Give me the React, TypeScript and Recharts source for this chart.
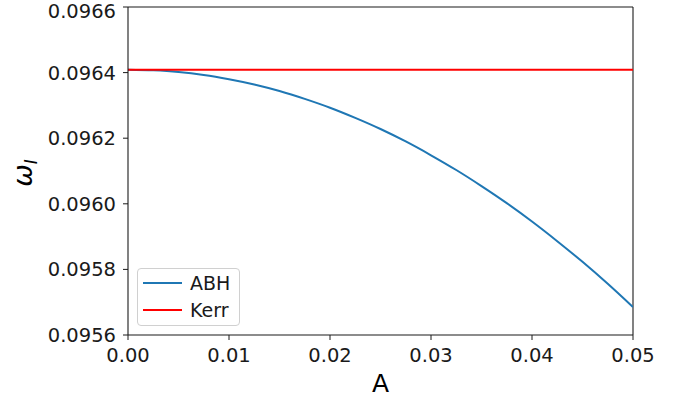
import React from 'react';
import { LineChart, Line, XAxis, YAxis, Label, ReferenceLine } from 'recharts';

const aValues = [0, 0.0025, 0.005, 0.0075, 0.01, 0.0125, 0.015, 0.0175, 0.02, 0.0225, 0.025, 0.0275, 0.03, 0.0325, 0.035, 0.0375, 0.04, 0.0425, 0.045, 0.0475, 0.05];
const abhValues = [0.096409, 0.096407, 0.096402, 0.096393, 0.09638, 0.096364, 0.096344, 0.09632, 0.096293, 0.096262, 0.096228, 0.09619, 0.096148, 0.096103, 0.096054, 0.096002, 0.095946, 0.095886, 0.095823, 0.095756, 0.095685];
const kerrValues = aValues.map(() => 0.096409);
const xTicks = [0, 0.01, 0.02, 0.03, 0.04, 0.05];
const yTicks = [0.0956, 0.0958, 0.096, 0.0962, 0.0964, 0.0966];
const seriesNames = ['ABH', 'Kerr'];
const seriesColors = ['#1f77b4', '#ff0000'];

const data = aValues.map((a, i) => ({ A: a, ABH: abhValues[i], Kerr: kerrValues[i] }));

const FONT = 'DejaVu Sans, sans-serif';
const AXIS = '#1a1a1a';

const LegendBox = () => (
  <div
    style={{
      position: 'absolute',
      left: 137,
      top: 268,
      width: 103,
      height: 58,
      border: '1px solid #d0d0d0',
      borderRadius: 4,
      background: 'rgba(255,255,255,0.8)',
      fontFamily: FONT,
      fontSize: 19,
      color: '#1a1a1a',
      boxSizing: 'border-box',
      paddingTop: 1,
    }}
  >
    {seriesNames.map((name, i) => (
      <div key={name} style={{ display: 'flex', alignItems: 'center', height: 26.5 }}>
        <div style={{ width: 39, height: 2, background: seriesColors[i], marginLeft: 5, marginRight: 8 }} />
        <span>{name}</span>
      </div>
    ))}
  </div>
);

const YLabel = () => {
  const cx = 32;
  const cy = 173;
  return (
    <text
      x={cx}
      y={cy}
      transform={`rotate(-90 ${cx} ${cy})`}
      textAnchor="middle"
      fontFamily={FONT}
      fontSize={27}
      fill="#000"
    >
      <tspan fontStyle="italic">ω</tspan>
      <tspan fontStyle="italic" fontSize={17} dy={5}>I</tspan>
    </text>
  );
};

export default function App() {
  return (
    <div style={{ position: 'absolute', left: 0, top: 0, width: 681, height: 402, background: '#fff' }}>
      <LineChart width={681} height={402} data={data} margin={{ top: 7, right: 48, left: 0, bottom: 0 }}>
        <XAxis
          dataKey="A"
          type="number"
          domain={[0, 0.05]}
          ticks={xTicks}
          tickFormatter={(v: number) => v.toFixed(2)}
          allowDataOverflow
          height={67}
          tickSize={5}
          tickMargin={8}
          stroke={AXIS}
          tick={{ fill: '#1a1a1a', fontSize: 19.5, fontFamily: FONT }}
          tickLine={{ stroke: AXIS }}
          axisLine={{ stroke: AXIS, strokeWidth: 1.1 }}
        >
          <Label value="A" position="insideBottom" offset={10} style={{ fontSize: 25, fontFamily: FONT, fill: '#000' }} />
        </XAxis>
        <YAxis
          type="number"
          domain={[0.0956, 0.0966]}
          ticks={yTicks}
          tickFormatter={(v: number) => v.toFixed(4)}
          allowDataOverflow
          width={128}
          tickSize={5}
          tickMargin={7}
          stroke={AXIS}
          tick={{ fill: '#1a1a1a', fontSize: 19.5, fontFamily: FONT }}
          tickLine={{ stroke: AXIS }}
          axisLine={{ stroke: AXIS, strokeWidth: 1.1 }}
          label={<YLabel />}
        />
        <ReferenceLine y={0.0966} stroke={AXIS} strokeWidth={1.1} />
        <ReferenceLine x={0.05} stroke={AXIS} strokeWidth={1.1} />
        <Line type="monotone" dataKey="ABH" name="ABH" stroke={seriesColors[0]} strokeWidth={2} dot={false} isAnimationActive={false} />
        <Line type="linear" dataKey="Kerr" name="Kerr" stroke={seriesColors[1]} strokeWidth={2} dot={false} isAnimationActive={false} />
      </LineChart>
      <LegendBox />
    </div>
  );
}
